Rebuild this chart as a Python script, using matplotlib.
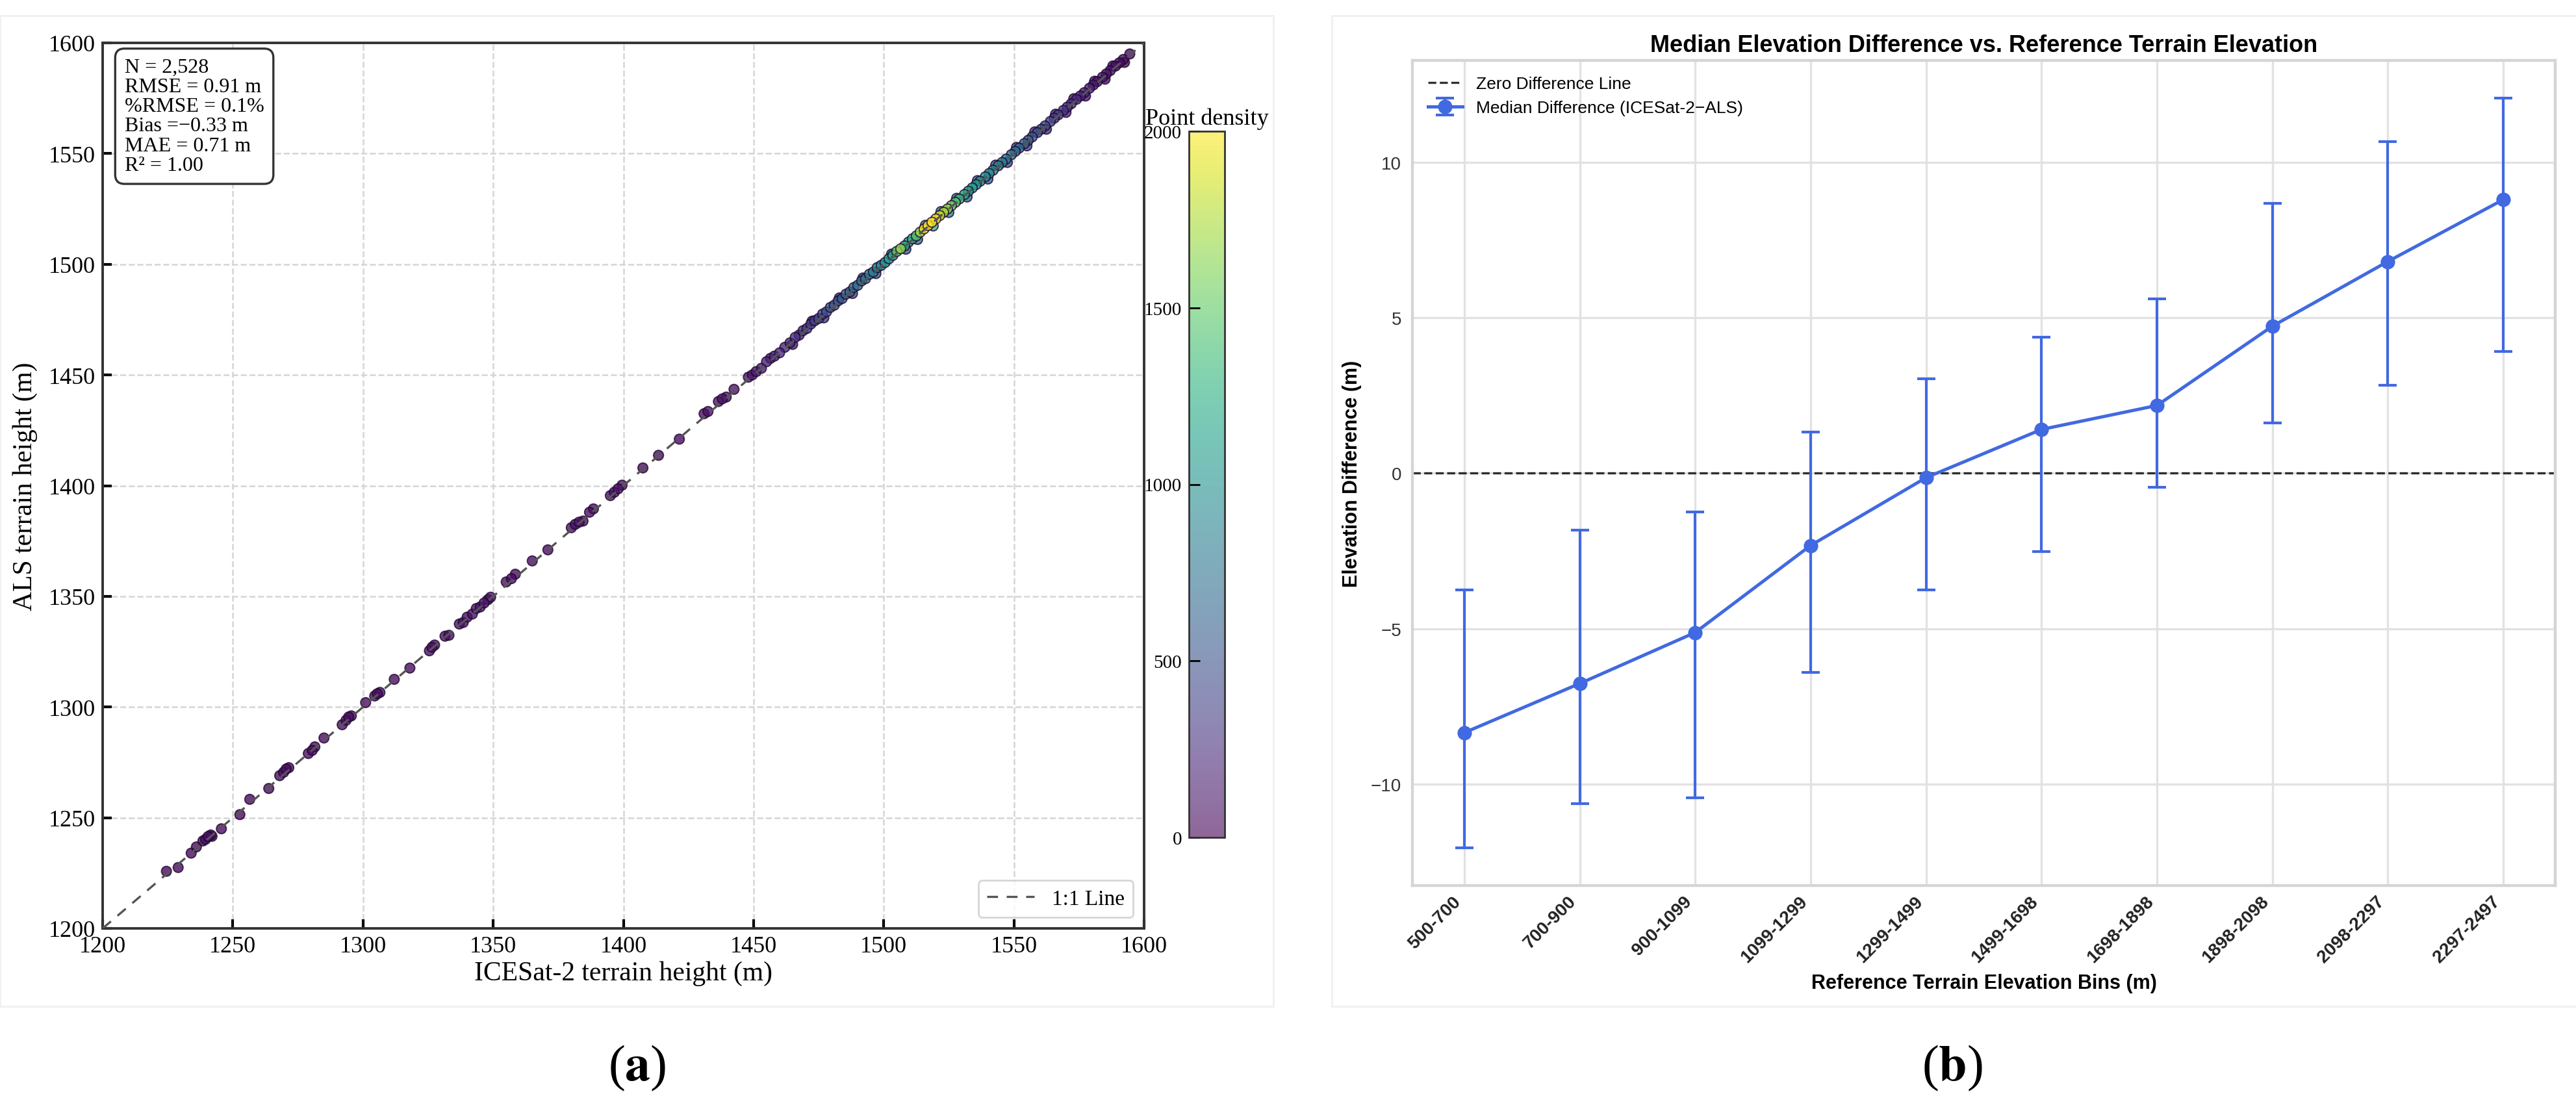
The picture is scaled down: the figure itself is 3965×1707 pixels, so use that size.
import matplotlib
matplotlib.use('Agg')
import matplotlib.pyplot as plt
from matplotlib.patches import Rectangle
from matplotlib.colors import Normalize
from matplotlib.cm import ScalarMappable

# ---- panel (a): ICESat-2 vs ALS terrain heights ----
ice_h = [1224.5, 1229, 1234, 1236, 1238.5, 1239.5, 1240.5, 1241.5, 1242, 1245.6,
         1252.7, 1256.5, 1263.8, 1268, 1269.5, 1270.5, 1271.5, 1279, 1280.5, 1281.5,
         1285, 1292, 1293.5, 1294.5, 1295.5, 1301, 1304.5, 1305.5, 1306.5, 1312,
         1318, 1325.5, 1326.5, 1327.5, 1331.5, 1333, 1337, 1338.5, 1340, 1342,
         1343.5, 1345, 1346.5, 1348, 1349, 1355, 1357, 1358.5, 1365, 1371,
         1380, 1381.5, 1383, 1384.5, 1387, 1388.5, 1395, 1396.5, 1398, 1399.5,
         1407.5, 1413.5, 1421.5, 1431, 1432.5, 1436.5, 1438, 1439.5, 1442.5, 1448,
         1449.5,
         1451, 1453, 1455, 1456.5, 1458, 1460, 1462, 1464, 1466, 1467.5,
         1469, 1470.5, 1472, 1473.5, 1475, 1476.5, 1478, 1479.5, 1481, 1482.5,
         1484, 1485.5, 1487, 1488.5, 1490, 1491.5, 1493, 1494.5, 1496, 1497.5,
         1499, 1500.5, 1502, 1503.5, 1505, 1506.5, 1508, 1509.5, 1511, 1512.5,
         1514, 1515.5, 1517, 1518.5, 1520, 1521.5, 1523, 1524.5, 1526, 1527.5,
         1529, 1531, 1532.5, 1534, 1535.5, 1537, 1539, 1540.5, 1542, 1544,
         1545.5, 1547, 1549, 1550.5, 1552, 1554, 1555.5, 1557, 1559, 1560.5,
         1562, 1564, 1565.5, 1567, 1569, 1570.5, 1572, 1574, 1575.5, 1577,
         1579, 1580.5, 1582, 1584, 1585.5, 1587, 1589, 1590.5, 1592, 1594.5,
         1465, 1472.5, 1477, 1483, 1488, 1492, 1497, 1503, 1508.5, 1513,
         1516, 1519, 1522, 1525, 1528, 1532, 1536, 1540, 1543, 1547.5,
         1551, 1555, 1558, 1562.5, 1566, 1570, 1573, 1577.5, 1581, 1585,
         1588, 1592.5]
als_h = [1225.8, 1227.5, 1234, 1236.8, 1239.5, 1240.2, 1241.5, 1242.2, 1241.6, 1245,
         1251.4, 1258.3, 1263.2, 1269, 1270.5, 1272, 1272.6, 1279, 1280.4, 1282,
         1286, 1292, 1294, 1295.5, 1296, 1302, 1305, 1306, 1306.6, 1312.5,
         1317.6, 1325.4, 1327, 1328, 1332, 1332.4, 1337.5, 1338.2, 1340.6, 1342,
         1344.5, 1345.2, 1347, 1348.5, 1349.6, 1356.5, 1358, 1360, 1366, 1371,
         1381, 1382.5, 1383.5, 1384, 1388, 1389.5, 1395.5, 1397, 1398.6, 1400.2,
         1408, 1413.7, 1421, 1432.5, 1433.5, 1438, 1439.2, 1440, 1443.5, 1449,
         1450,
         1451.5, 1453, 1456, 1457.5, 1458.5, 1460, 1462.5, 1464.5, 1467, 1468,
         1470, 1471, 1473, 1474.5, 1475.5, 1477.5, 1478.5, 1480.5, 1481.5, 1483.5,
         1484.5, 1486.5, 1487.5, 1489.5, 1490.5, 1492.5, 1493.5, 1495.5, 1496.5, 1498.5,
         1499.5, 1500.8, 1502.5, 1504, 1505.8, 1507, 1508.3, 1510, 1511.5, 1512.8,
         1514.5, 1516, 1517.5, 1519, 1520.5, 1522, 1523.5, 1525, 1526.5, 1528,
         1529.5, 1531.5, 1533, 1534.5, 1536, 1537.5, 1539.5, 1541, 1542.5, 1544.5,
         1546, 1547.5, 1549.5, 1551, 1552.5, 1554.5, 1556, 1557.5, 1559.5, 1561,
         1562.5, 1564.5, 1566, 1567.5, 1569.5, 1571, 1572.5, 1574.5, 1576, 1577.5,
         1579.5, 1581, 1582.5, 1584.5, 1586, 1587.5, 1589.5, 1591, 1592.5, 1595,
         1463.8, 1474.3, 1475.8, 1484.8, 1486.8, 1493.8, 1495.8, 1504.6, 1506.8, 1511.2,
         1517.6, 1517.3, 1523.8, 1523.4, 1529.8, 1530.4, 1537.8, 1538.5, 1544.8, 1546,
         1552.8, 1553.5, 1559.8, 1561, 1567.8, 1568.6, 1574.8, 1576, 1582.7, 1583.6,
         1589.6, 1591.2]
dens = [20, 25, 30, 35, 60, 70, 80, 70, 60, 40,
        30, 30, 35, 50, 60, 60, 50, 50, 60, 50,
        40, 60, 70, 70, 60, 50, 60, 70, 60, 40,
        40, 60, 70, 60, 60, 70, 80, 90, 90, 90,
        100, 100, 100, 90, 90, 60, 60, 50, 50, 40,
        70, 80, 80, 70, 70, 60, 70, 80, 80, 70,
        50, 50, 40, 70, 80, 90, 100, 90, 80, 110,
        120,
        130, 150, 180, 170, 200, 220, 200, 240, 270, 260,
        310, 330, 360, 390, 430, 460, 480, 510, 530, 560,
        580, 620, 660, 700, 720, 760, 800, 840, 880, 920,
        970, 1020, 1100, 1250, 1500, 1650, 1250, 1200, 1300, 1450,
        1700, 1950, 2000, 2000, 1950, 1850, 1750, 1650, 1550, 1450,
        1350, 1250, 1180, 1120, 1080, 1040, 1000, 970, 940, 900,
        860, 820, 780, 740, 700, 650, 610, 570, 530, 490,
        450, 410, 370, 340, 310, 280, 250, 220, 200, 180,
        160, 140, 130, 120, 100, 90, 80, 70, 60, 50,
        180, 300, 350, 450, 500, 560, 600, 750, 650, 750,
        1250, 1350, 1050, 950, 850, 750, 700, 650, 550, 500,
        450, 400, 350, 300, 250, 200, 170, 140, 110, 90,
        70, 50]

stats_text = ("N = 2,528\nRMSE = 0.91 m\n%RMSE = 0.1%\n"
              "Bias =\u22120.33 m\nMAE = 0.71 m\nR\u00b2 = 1.00")
cbar_ticks = [0, 500, 1000, 1500, 2000]
axis_ticks_a = [1200, 1250, 1300, 1350, 1400, 1450, 1500, 1550, 1600]

# ---- panel (b): median elevation difference per reference elevation bin ----
bins = ['500-700', '700-900', '900-1099', '1099-1299', '1299-1499',
        '1499-1698', '1698-1898', '1898-2098', '2098-2297', '2297-2497']
median_diff = [-8.34, -6.76, -5.12, -2.32, -0.14, 1.41, 2.18, 4.73, 6.81, 8.80]
lower_bound = [-12.05, -10.62, -10.44, -6.41, -3.76, -2.51, -0.44, 1.62, 2.84, 3.92]
upper_bound = [-3.76, -1.83, -1.24, 1.33, 3.03, 4.38, 5.60, 8.69, 10.66, 12.07]

W, H, DPI = 3966, 1708, 200
SERIF = ['Liberation Serif', 'DejaVu Serif']
SANS = ['Liberation Sans', 'DejaVu Sans']
plt.rcParams['font.family'] = SERIF
plt.rcParams['mathtext.fontset'] = 'stix'

fig = plt.figure(figsize=(W / DPI, H / DPI), dpi=DPI)

# faint borders of the two sub-images
fig.add_artist(Rectangle((0.0, 1 - 1550 / H), 1960 / W, 1525 / H, transform=fig.transFigure,
                         fill=False, ec='#f0f0f0', lw=1))
fig.add_artist(Rectangle((2050 / W, 1 - 1550 / H), (W - 2050) / W, 1525 / H,
                         transform=fig.transFigure, fill=False, ec='#f0f0f0', lw=1))

# ---------------- panel a ----------------
axa = fig.add_axes([158 / W, 1 - 1430 / H, 1603 / W, (1430 - 67) / H])
order = sorted(range(len(dens)), key=lambda i: dens[i])
norm = Normalize(vmin=0, vmax=2000)
sc = axa.scatter([ice_h[i] for i in order], [als_h[i] for i in order],
                 c=[dens[i] for i in order], cmap='viridis', norm=norm,
                 s=30, alpha=0.78, edgecolors='#1f0530', linewidths=0.7, zorder=3)
axa.plot([1200, 1600], [1200, 1600], ls=(0, (5, 4)), color='#555555', lw=1.2,
         label='1:1 Line', zorder=4)
axa.set_xlim(1200, 1600)
axa.set_ylim(1200, 1600)
axa.set_xticks(axis_ticks_a)
axa.set_yticks(axis_ticks_a)
axa.grid(True, ls='--', color='#d5d5d5', lw=0.9, zorder=0)
axa.set_axisbelow(True)
axa.tick_params(direction='in', length=5, width=1.5, labelsize=13, pad=4,
                top=False, right=False)
for sp in axa.spines.values():
    sp.set_color('#333333')
    sp.set_linewidth(1.4)
axa.set_xlabel('ICESat-2 terrain height (m)', fontsize=15, labelpad=2)
axa.set_ylabel('ALS terrain height (m)', fontsize=15, labelpad=6)
axa.text(0.021, 0.983, stats_text, transform=axa.transAxes, va='top', ha='left',
         fontsize=11.5, linespacing=1.05, zorder=6,
         bbox=dict(boxstyle='round,pad=0.45', fc='white', ec='#333333', lw=1.2))
leg = axa.legend(loc='lower right', fontsize=12, handlelength=2.2, fancybox=True,
                 borderaxespad=0.5)
leg.get_frame().set_edgecolor('#cccccc')

cax = fig.add_axes([1830 / W, 1 - 1290 / H, 55 / W, 1087 / H])
cb = fig.colorbar(ScalarMappable(norm=norm, cmap='viridis'), cax=cax,
                  ticks=cbar_ticks, alpha=0.6)
cax.yaxis.set_ticks_position('left')
cax.yaxis.set_label_position('left')
cax.tick_params(direction='in', length=6, width=1, labelsize=10.5, pad=4)
cb.outline.set_edgecolor('#333333')
cb.outline.set_linewidth(1)
cax.set_title('Point density', fontsize=13, pad=4)

fig.text(981 / W, 1 - 1644 / H, r'($\mathbf{a}$)', fontsize=28, ha='center', va='center')

# ---------------- panel b ----------------
axb = fig.add_axes([2174 / W, 1 - 1364 / H, 1759 / W, 1270 / H])
xpos = list(range(len(bins)))
yerr = [[m - lo for m, lo in zip(median_diff, lower_bound)],
        [hi - m for m, hi in zip(median_diff, upper_bound)]]
axb.axhline(0, color='black', ls='--', lw=1.2, alpha=0.8, label='Zero Difference Line')
axb.errorbar(xpos, median_diff, yerr=yerr, fmt='o-', color='#4169E1', ecolor='#4169E1',
             elinewidth=1.5, capsize=5, capthick=1.5, lw=1.8, ms=7,
             label='Median Difference (ICESat-2\u2212ALS)')
axb.set_xticks(xpos)
axb.set_xticklabels(bins, rotation=45, ha='right', fontweight='bold', fontsize=10,
                    family=SANS, color='#222222')
for lab in axb.get_yticklabels():
    lab.set_family(SANS)
axb.tick_params(axis='y', labelsize=10, labelcolor='#333333', length=0, pad=6)
axb.tick_params(axis='x', length=0, pad=4)
axb.grid(True, color='#e2e2e2', lw=1.2)
axb.set_axisbelow(True)
for sp in axb.spines.values():
    sp.set_color('#d5d5d5')
    sp.set_linewidth(1.6)
axb.set_title('Median Elevation Difference vs. Reference Terrain Elevation',
              fontsize=13, fontweight='bold', family=SANS, pad=5)
axb.set_xlabel('Reference Terrain Elevation Bins (m)', fontsize=11, fontweight='bold',
               family=SANS, labelpad=4)
axb.set_ylabel('Elevation Difference (m)', fontsize=11, fontweight='bold',
               family=SANS, labelpad=5)
axb.legend(loc='upper left', frameon=False, prop={'family': SANS, 'size': 9.5})

fig.text(3005 / W, 1 - 1644 / H, r'($\mathbf{b}$)', fontsize=28, ha='center', va='center')

fig.savefig('out.png', dpi=DPI)
plt.close(fig)
